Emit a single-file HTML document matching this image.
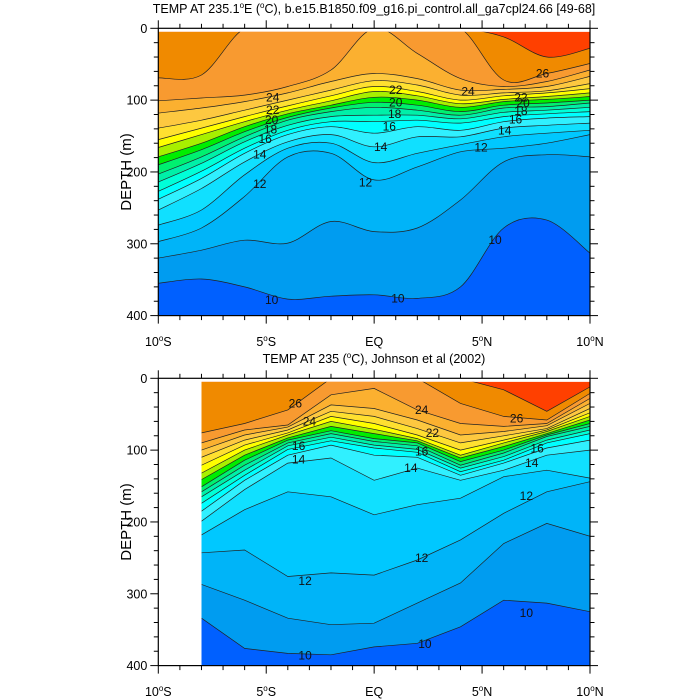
<!DOCTYPE html>
<html><head><meta charset="utf-8">
<style>
html,body{margin:0;padding:0;background:#fff;}
svg{display:block;font-family:"Liberation Sans",Arial,sans-serif;}
</style></head>
<body>
<svg id="chart" width="700" height="700" viewBox="0 0 700 700">
  <defs>
    <clipPath id="clipTop"><rect x="158.3" y="31.9" width="431.7" height="283.7"/></clipPath>
    <clipPath id="clipBot"><rect x="201.5" y="381.9" width="388.5" height="283.7"/></clipPath>
  </defs>
  <text x="374" y="13" text-anchor="middle" font-size="12.5">TEMP AT 235.1<tspan font-size="8" dy="-5">o</tspan><tspan dy="5">E (</tspan><tspan font-size="8" dy="-5">o</tspan><tspan dy="5">C), b.e15.B1850.f09_g16.pi_control.all_ga7cpl24.66 [49-68]</tspan></text>
  <text x="374" y="363" text-anchor="middle" font-size="12.5">TEMP AT 235 (<tspan font-size="8" dy="-5">o</tspan><tspan dy="5">C), Johnson et al (2002)</tspan></text>
  <g id="topPanel"></g>
  <g id="botPanel"></g>
</svg>
<script>
// ---- data: isotherm depths (m) per latitude ----
const latsTop = [-10,-8,-6,-4,-2,0,2,4,6,8,10];
const levels = [27,26,25,24,23,22,21,20,19,18,17,16,15,14,13,12,11,10];
const isoTop = {
 27:[0,0,0,0,0,0,0,0,12,40,28],
 26:[69,65,0,0,0,0,0,0,72,63,49],
 25:[101,97,93,81,58,0,35,70,81,74,58],
 24:[118,111,102,90,74,63,70,86,85,81,67],
 23:[139,128,114,100,86,73,79,93,90,87,77],
 22:[155,139,123,108,94,81,88,100,94,90,84],
 21:[166,148,130,114,101,88,94,105,99,95,90],
 20:[179,160,137,119,107,96,100,110,102,99,95],
 19:[190,169,144,124,111,103,107,116,107,104,100],
 18:[203,179,151,128,116,110,114,121,111,109,104],
 17:[214,188,158,135,123,121,121,126,117,114,110],
 16:[227,199,167,142,130,130,128,132,123,119,116],
 15:[238,209,174,148,137,146,137,142,130,125,123],
 14:[253,223,186,158,148,165,151,151,139,135,132],
 13:[274,253,204,167,160,187,174,162,151,146,142],
 12:[297,278,234,179,174,211,193,172,167,160,148],
 11:[320,309,295,299,269,283,278,239,186,176,179],
 10:[355,349,360,377,373,371,376,360,278,267,313]
};
const latsBot = [-8,-6,-4,-2,0,2,4,6,8,10];
const isoBot = {
 27:[0,0,0,0,0,0,0,16,46,12],
 26:[76,63,44,0,0,0,35,53,58,21],
 25:[90,72,65,23,14,44,63,67,63,28],
 24:[100,79,68,37,42,58,79,74,66,35],
 23:[110,86,72,46,53,70,90,80,70,42],
 22:[121,93,76,53,63,79,100,86,72,48],
 21:[132,100,79,60,71,84,107,90,74,53],
 20:[141,107,83,67,77,87,111,95,77,58],
 19:[151,114,86,73,84,90,116,100,79,63],
 18:[158,121,90,77,88,94,121,104,81,67],
 17:[165,128,94,82,93,99,125,109,86,72],
 16:[174,135,99,87,97,103,130,114,90,77],
 15:[185,142,107,93,107,110,135,118,97,86],
 14:[199,155,118,111,142,125,142,128,107,100],
 13:[218,183,158,165,190,176,167,137,128,139],
 12:[243,239,276,271,274,253,225,188,158,144],
 11:[287,309,334,343,341,313,285,230,202,220],
 10:[334,376,383,385,374,369,346,309,313,325]
};
const bandColor = {28:'#ff4000',27:'#f08a00',26:'#f89a30',25:'#fbb030',24:'#fdc840',23:'#ffe030',22:'#ffff00',21:'#a8f000',20:'#00ee00',19:'#00f070',18:'#00f0a8',17:'#00ffd8',16:'#00ffff',15:'#30f0ff',14:'#10e0ff',13:'#00c8ff',12:'#00b4f8',11:'#009cf0',10:'#0060ff'};
const labelsTop = [[-4.7,96,'24'],[-4.7,114,'22'],[-4.75,128,'20'],[-4.8,141,'18'],[-5.05,154,'16'],[-5.3,176,'14'],[-5.3,217,'12'],[1.0,86,'22'],[1.0,103,'20'],[0.95,119,'18'],[0.7,137,'16'],[0.3,165,'14'],[-0.4,215,'12'],[4.35,88,'24'],[7.8,63,'26'],[6.8,96,'22'],[6.9,104,'20'],[6.8,115,'18'],[6.55,127,'16'],[6.05,142,'14'],[4.95,166,'12'],[5.6,295,'10'],[-4.75,378,'10'],[1.1,376,'10']];
const labelsBot = [[-3.65,35,'26'],[-3.0,60,'24'],[-3.5,94,'16'],[-3.5,113,'14'],[2.7,76,'22'],[2.2,102,'16'],[2.2,44,'24'],[1.7,125,'14'],[6.6,56,'26'],[7.55,98,'16'],[7.3,118,'14'],[7.05,164,'12'],[2.2,250,'12'],[-3.2,282,'12'],[7.05,327,'10'],[2.35,370,'10'],[-3.2,386,'10']];
const xTickNums = ['10','5','EQ','5','10'];
const xTickHemi = ['S','S','','N','N'];
const xTickVals = [-10,-5,0,5,10];
const yTickVals = [0,100,200,300,400];

const NS='http://www.w3.org/2000/svg';
const X0=158.3, W=431.7, H=287.3;
function xs(lat){return X0+(lat+10)/20*W;}
function mk(tag,attrs,parent){const e=document.createElementNS(NS,tag);for(const k in attrs)e.setAttribute(k,attrs[k]);parent.appendChild(e);return e;}
function smoothPath(pts){
  let d='M'+pts[0][0].toFixed(1)+','+pts[0][1].toFixed(1);
  for(let i=0;i<pts.length-1;i++){
    const p0=pts[Math.max(0,i-1)],p1=pts[i],p2=pts[i+1],p3=pts[Math.min(pts.length-1,i+2)];
    const c1=[p1[0]+(p2[0]-p0[0])/6,p1[1]+(p2[1]-p0[1])/6];
    const c2=[p2[0]-(p3[0]-p1[0])/6,p2[1]-(p3[1]-p1[1])/6];
    d+=' C'+c1[0].toFixed(1)+','+c1[1].toFixed(1)+' '+c2[0].toFixed(1)+','+c2[1].toFixed(1)+' '+p2[0].toFixed(1)+','+p2[1].toFixed(1);
  }
  return d;
}
function linePath(pts){return 'M'+pts.map(p=>p[0].toFixed(1)+','+p[1].toFixed(1)).join(' L');}

function drawPanel(g,Y0,lats,iso,labels,clipId,smooth){
  const ys=d=>Y0+d/400*H;
  const path=smooth?smoothPath:linePath;
  const fills=mk('g',{'clip-path':'url(#'+clipId+')'},g);
  
  
  const base=mk('rect',{x:X0,y:Y0,width:W,height:H,fill:bandColor[28]},fills);
  
  
  const lines=mk('g',{'clip-path':'url(#'+clipId+')',fill:'none',stroke:'#222','stroke-width':'0.7'},g);
  
  
  const xL=xs(lats[0]), xR=xs(lats[lats.length-1]);
  levels.forEach(T=>{
    const pts=lats.map((la,i)=>[xs(la),ys(iso[T][i])]);
    const d=path(pts);
    const f=mk('path',{d:d+' L'+xR+','+(Y0+H+2)+' L'+xL+','+(Y0+H+2)+' Z',fill:bandColor[T]},fills);
    
    
    const l=mk('path',{d:d},lines);
    
    
  });
  labels.forEach(lb=>{
    const t=mk('text',{x:xs(lb[0]),y:ys(lb[1])+4,'text-anchor':'middle','font-size':'12',fill:'#111'},g);
    t.textContent=lb[2];
    
    
  });
  const fr=mk('rect',{x:X0,y:Y0,width:W,height:H,fill:'none',stroke:'#000','stroke-width':'1.2'},g);
  
  
  const ax=mk('g',{stroke:'#000','stroke-width':'1'},g);
  
  
  for(let la=-10;la<=10;la++){
    const x=xs(la), major=(la%5===0), L=major?8:4.5;
    mk('line',{x1:x,y1:Y0,x2:x,y2:Y0-L},ax);
    mk('line',{x1:x,y1:Y0+H,x2:x,y2:Y0+H+L},ax);
  }
  for(let d=0;d<=400;d+=20){
    const y=ys(d), major=(d%100===0), L=major?8:4.5;
    mk('line',{x1:X0,y1:y,x2:X0-L,y2:y},ax);
    mk('line',{x1:X0+W,y1:y,x2:X0+W+L,y2:y},ax);
  }
  xTickVals.forEach((v,i)=>{
    const t=mk('text',{x:xs(v),y:Y0+H+30.5,'text-anchor':'middle','font-size':'12.5'},g);
    if(xTickHemi[i]){
      const a=mk('tspan',{},t); a.textContent=xTickNums[i];
      const b=mk('tspan',{'font-size':'8',dy:'-5'},t); b.textContent='o';
      const c=mk('tspan',{dy:'5'},t); c.textContent=xTickHemi[i];
    } else t.textContent=xTickNums[i];
    
    
  });
  yTickVals.forEach(v=>{
    const t=mk('text',{x:X0-11,y:ys(v)+4.5,'text-anchor':'end','font-size':'12.5'},g);
    t.textContent=String(v);
    
    
  });
  const yt=mk('text',{x:0,y:0,'text-anchor':'middle','font-size':'15',transform:'translate(131,'+(Y0+H/2)+') rotate(-90)'},g);
  yt.textContent='DEPTH (m)';
  
  
}
drawPanel(document.getElementById('topPanel'),28.3,latsTop,isoTop,labelsTop,'clipTop',true);
drawPanel(document.getElementById('botPanel'),378.3,latsBot,isoBot,labelsBot,'clipBot',false);
</script>
</body></html>
